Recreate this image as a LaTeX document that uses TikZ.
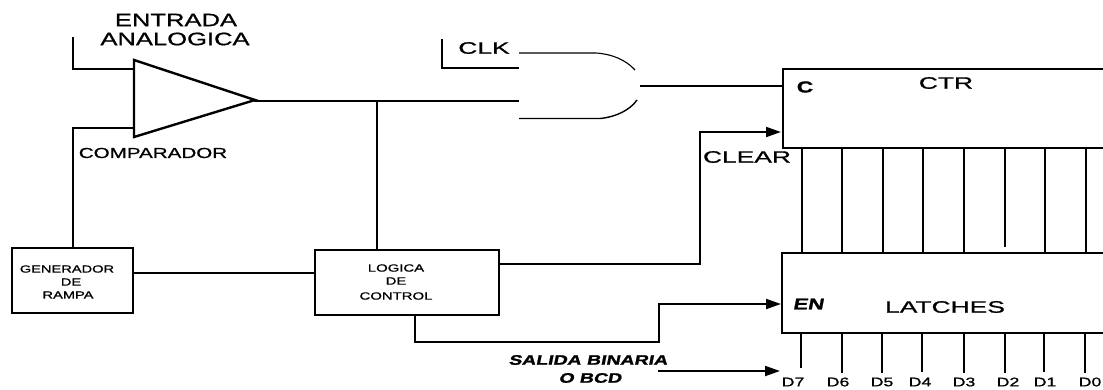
\documentclass[tikz,border=0pt]{standalone}
\usepackage{fontspec}
\usetikzlibrary{arrows.meta,calc}
\newfontfamily\widesans[FakeStretch=1.42,FakeBold=0.9]{Liberation Sans}
\newfontfamily\widersans[FakeStretch=1.6,FakeBold=0.9]{Liberation Sans}
\newfontfamily\wideital[FakeStretch=1.42,FakeBold=1.4,FakeSlant=0.2]{Liberation Sans Bold}
\tikzset{
  wire/.style={line width=1.9pt,line cap=butt,line join=miter},
  arrowwire/.style={wire,-{Triangle[length=15pt,width=10pt]}},
  boxblock/.style={draw,line width=2.1pt,rectangle,inner sep=0pt,anchor=north west},
  lblbig/.style={inner sep=0pt,font=\widesans\fontsize{18}{20}\selectfont},
  lblcomp/.style={inner sep=0pt,font=\widesans\fontsize{14.5}{16}\selectfont},
  lblmid/.style={inner sep=0pt,font=\widersans\fontsize{16.5}{18}\selectfont},
  lblsmall/.style={inner sep=0pt,font=\widesans\fontsize{10.3}{12}\selectfont},
  lbllogic/.style={inner sep=0pt,font=\widesans\fontsize{10.5}{12}\selectfont},
  lbldata/.style={inner sep=0pt,font=\widesans\fontsize{12.5}{14}\selectfont},
  lblital/.style={inner sep=0pt,font=\wideital\fontsize{13.7}{15}\selectfont},
}
\begin{document}
\begin{tikzpicture}[x=1pt,y=-1pt]
\useasboundingbox (0,0) rectangle (1103,389);
\clip (0,0) rectangle (1103,389);
% blocks
\node[boxblock,minimum width=121pt,minimum height=65pt] (gen) at (11,247) {};
\node[boxblock,minimum width=184pt,minimum height=65pt] (logic) at (314,249) {};
\node[boxblock,minimum width=340pt,minimum height=79pt] (ctr) at (782,68) {};
\node[boxblock,minimum width=340pt,minimum height=80pt] (latch) at (781,252) {};
% comparator
\coordinate (ta) at (134,60);
\coordinate (tb) at (134,137);
\coordinate (tc) at (255,100);
\draw[line width=2.4pt,line join=miter] (ta) -- (tc) -- (tb) -- cycle;
% AND gate (broken outline as printed)
\coordinate (gt) at (519,53);
\coordinate (gb) at (519,118.5);
\coordinate (gi1) at (519,68);
\coordinate (gi2) at (519,101);
\coordinate (go) at (640,86);
\draw[line width=1.1pt] (gt) -- (596,53) .. controls (612,54) and (626,60) .. (635,70);
\draw[line width=1.4pt] (gb) -- (600,118.5) .. controls (616,117) and (630,110) .. (637,100);
% free ends and bends
\coordinate (ain) at (73,37);
\coordinate (ainb) at (134,69);
\coordinate (aref) at (134,128);
\coordinate (clk) at (442,39);
\coordinate (jn) at (377,100);
% connectors
\draw[wire] (ain) |- (ainb);
\draw[wire] (aref) -| (gen.north -| 73,0);
\draw[wire] (tc) -- (gi2 -| tc) -- (gi2);
\draw[wire] (jn) -- (jn |- logic.north);
\draw[wire] (clk) |- (gi1);
\draw[wire] (go) -- (go -| ctr.west);
\draw[wire] (gen.east |- 0,273) -- (logic.west |- 0,273);
\coordinate (clrin) at (781,132);
\coordinate (enin) at (781,304);
\draw[arrowwire] (logic.east |- 0,264) -| (700,132) -- (clrin);
\draw[arrowwire] (415,314) |- (659,342) |- (enin);
\coordinate (salida) at (658,371);
\coordinate (salidaend) at (780,371);
\draw[arrowwire] (salida) -- (salidaend);
% data lines
\foreach \x/\e in {802/252,842/252,883/252,923/252,964/252,1005/247,1045/252,1086/252}
  \draw[wire] (\x,147) -- (\x,\e);
\foreach \x/\e in {801/368,842/373,882/373,922/372,964/373,1005/373,1044/372,1085/373}
  \draw[wire] (\x,332) -- (\x,\e);
% labels
\node[lblbig] (t1) at (176,20) {ENTRADA};
\node[lblbig] (t2) at (175,39) {ANALOGICA};
\node[lblcomp] (t3) at (153,153) {COMPARADOR};
\node[lblmid] (t4) at (484,48) {CLK};
\node[lblmid] (t5) at (747,157) {CLEAR};
\node[lblmid] (t6) at (946,83) {CTR};
\node[lblmid,font=\widesans\bfseries\fontsize{16}{18}\selectfont] (t7) at (805,87) {C};
\node[lblmid,font=\wideital\fontsize{15.5}{17}\selectfont] (t8) at (808,304) {EN};
\node[lblmid] (t9) at (945,307) {LATCHES};
\node[lblsmall] (g1) at (67,269) {GENERADOR};
\node[lblsmall] (g2) at (71,282) {DE};
\node[lblsmall] (g3) at (68,295) {RAMPA};
\node[lbllogic] (l1) at (396,268) {LOGICA};
\node[lbllogic] (l2) at (396,281) {DE};
\node[lbllogic] (l3) at (396,296) {CONTROL};
\node[lblital] (s1) at (588,360) {SALIDA BINARIA};
\node[lblital] (s2) at (590,378) {O BCD};
\foreach \n/\x in {7/793,6/838,5/882,4/920,3/964,2/1008,1/1045,0/1090}
  \node[lbldata] (d\n) at (\x,382) {D\n};
\end{tikzpicture}
\end{document}
